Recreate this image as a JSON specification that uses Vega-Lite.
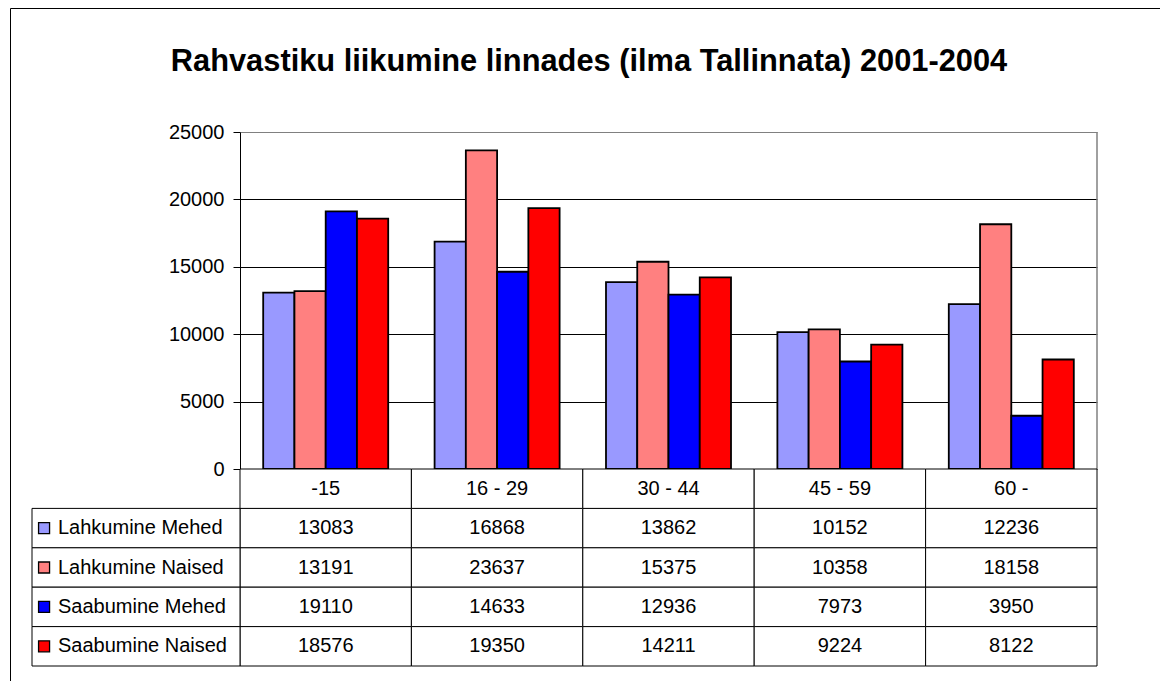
{
  "$schema": "https://vega.github.io/schema/vega-lite/v6.json",
  "width": 1150,
  "height": 673,
  "autosize": {"type": "none"},
  "padding": {"left": 10, "top": 8, "right": 0, "bottom": 0},
  "background": "white",
  "config": {"font": "Liberation Sans", "view": {"stroke": "black", "strokeWidth": 1}},
  "title": {
    "text": "Rahvastiku liikumine linnades (ilma Tallinnata) 2001-2004",
    "font": "Liberation Sans",
    "fontSize": 30.8,
    "fontWeight": "bold",
    "color": "black",
    "anchor": "middle",
    "frame": "group",
    "dx": 4,
    "offset": -70
  },
  "datasets": {
    "rows": [
      {"age": "-15", "series": "Lahkumine Mehed", "value": 13083},
      {"age": "16 - 29", "series": "Lahkumine Mehed", "value": 16868},
      {"age": "30 - 44", "series": "Lahkumine Mehed", "value": 13862},
      {"age": "45 - 59", "series": "Lahkumine Mehed", "value": 10152},
      {"age": "60 -", "series": "Lahkumine Mehed", "value": 12236},
      {"age": "-15", "series": "Lahkumine Naised", "value": 13191},
      {"age": "16 - 29", "series": "Lahkumine Naised", "value": 23637},
      {"age": "30 - 44", "series": "Lahkumine Naised", "value": 15375},
      {"age": "45 - 59", "series": "Lahkumine Naised", "value": 10358},
      {"age": "60 -", "series": "Lahkumine Naised", "value": 18158},
      {"age": "-15", "series": "Saabumine Mehed", "value": 19110},
      {"age": "16 - 29", "series": "Saabumine Mehed", "value": 14633},
      {"age": "30 - 44", "series": "Saabumine Mehed", "value": 12936},
      {"age": "45 - 59", "series": "Saabumine Mehed", "value": 7973},
      {"age": "60 -", "series": "Saabumine Mehed", "value": 3950},
      {"age": "-15", "series": "Saabumine Naised", "value": 18576},
      {"age": "16 - 29", "series": "Saabumine Naised", "value": 19350},
      {"age": "30 - 44", "series": "Saabumine Naised", "value": 14211},
      {"age": "45 - 59", "series": "Saabumine Naised", "value": 9224},
      {"age": "60 -", "series": "Saabumine Naised", "value": 8122}
    ]
  },
  "data": {"name": "rows"},
  "layer": [
    {
      "layer": [
        {
          "mark": {"type": "bar", "stroke": "black", "strokeWidth": 1.8},
          "encoding": {
            "x": {
              "field": "age", "type": "nominal",
              "sort": ["-15", "16 - 29", "30 - 44", "45 - 59", "60 -"],
              "scale": {"domain": ["-15", "16 - 29", "30 - 44", "45 - 59", "60 -"], "range": [230, 1087], "paddingInner": 0, "paddingOuter": 0},
              "axis": null
            },
            "xOffset": {
              "field": "series", "type": "nominal",
              "scale": {"domain": ["Lahkumine Mehed", "Lahkumine Naised", "Saabumine Mehed", "Saabumine Naised"], "paddingInner": 0, "paddingOuter": 0.742}
            },
            "y": {
              "field": "value", "type": "quantitative",
              "scale": {"domain": [0, 25000], "range": [461, 124], "nice": false},
              "axis": {
                "orient": "left",
                "offset": -230,
                "values": [0, 5000, 10000, 15000, 20000, 25000],
                "format": "d",
                "title": null,
                "labelFont": "Liberation Sans",
                "labelFontSize": 20,
                "labelColor": "black",
                "labelPadding": 9,
                "tickColor": "black",
                "tickSize": 7,
                "domainColor": "black",
                "grid": true,
                "gridColor": {"condition": {"test": "datum.value >= 25000", "value": "#808080"}, "value": "black"},
                "gridOpacity": 1,
                "gridWidth": 1
              }
            },
            "color": {
              "field": "series", "type": "nominal",
              "scale": {"domain": ["Lahkumine Mehed", "Lahkumine Naised", "Saabumine Mehed", "Saabumine Naised"], "range": ["#9999FF", "#FF8080", "#0000FF", "#FF0000"]},
              "legend": null
            }
          }
        },
        {
          "data": {"values": [{}]},
          "mark": {"type": "rule", "color": "#808080", "strokeWidth": 1.5},
          "encoding": {
            "x": {"datum": "60 -", "type": "nominal", "bandPosition": 1},
            "y": {"datum": 0, "type": "quantitative"},
            "y2": {"datum": 25000}
          }
        }
      ]
    },
    {
      "layer": [
        {
          "mark": {"type": "rect", "fill": "white", "stroke": "black", "strokeWidth": 1},
          "encoding": {
            "x": {"field": "age", "type": "nominal", "scale": {"domain": ["-15", "16 - 29", "30 - 44", "45 - 59", "60 -"], "range": [230, 1087], "paddingInner": 0, "paddingOuter": 0}, "axis": null},
            "y": {"field": "series", "type": "nominal", "scale": {"domain": ["hdr", "Lahkumine Mehed", "Lahkumine Naised", "Saabumine Mehed", "Saabumine Naised"], "range": [461, 658], "paddingInner": 0, "paddingOuter": 0}, "axis": null}
          }
        },
        {
          "transform": [{"filter": "datum.series === 'Lahkumine Mehed'"}],
          "mark": {"type": "rect", "fill": "white", "stroke": "black", "strokeWidth": 1},
          "encoding": {
            "x": {"field": "age", "type": "nominal"},
            "y": {"datum": "hdr", "type": "nominal"}
          }
        },
        {
          "mark": {"type": "text", "fontSize": 20, "font": "Liberation Sans", "color": "black", "align": "center", "baseline": "middle"},
          "encoding": {
            "x": {"field": "age", "type": "nominal"},
            "y": {"field": "series", "type": "nominal"},
            "text": {"field": "value", "type": "quantitative", "format": "d"}
          }
        },
        {
          "transform": [{"filter": "datum.series === 'Lahkumine Mehed'"}],
          "mark": {"type": "text", "fontSize": 20, "font": "Liberation Sans", "color": "black", "align": "center", "baseline": "middle"},
          "encoding": {
            "x": {"field": "age", "type": "nominal"},
            "y": {"datum": "hdr", "type": "nominal"},
            "text": {"field": "age", "type": "nominal"}
          }
        }
      ]
    },
    {
      "transform": [{"filter": "datum.age === '-15'"}],
      "layer": [
        {
          "mark": {"type": "rect", "fill": "white", "stroke": "black", "strokeWidth": 1},
          "encoding": {
            "x": {"datum": "legend", "type": "nominal", "scale": {"domain": ["legend"], "range": [22, 230], "paddingInner": 0, "paddingOuter": 0}, "axis": null},
            "y": {"field": "series", "type": "nominal", "scale": {"domain": ["hdr", "Lahkumine Mehed", "Lahkumine Naised", "Saabumine Mehed", "Saabumine Naised"], "range": [461, 658], "paddingInner": 0, "paddingOuter": 0}, "axis": null}
          }
        },
        {
          "mark": {"type": "point", "shape": "square", "filled": true, "size": 121, "stroke": "black", "strokeWidth": 1.3, "opacity": 1},
          "encoding": {
            "x": {"datum": "legend", "type": "nominal", "bandPosition": 0.058},
            "y": {"field": "series", "type": "nominal"},
            "fill": {"field": "series", "type": "nominal", "scale": {"domain": ["Lahkumine Mehed", "Lahkumine Naised", "Saabumine Mehed", "Saabumine Naised"], "range": ["#9999FF", "#FF8080", "#0000FF", "#FF0000"]}, "legend": null}
          }
        },
        {
          "mark": {"type": "text", "fontSize": 20, "font": "Liberation Sans", "color": "black", "align": "left", "baseline": "middle"},
          "encoding": {
            "x": {"datum": "legend", "type": "nominal", "bandPosition": 0.125},
            "y": {"field": "series", "type": "nominal"},
            "text": {"field": "series", "type": "nominal"}
          }
        }
      ]
    }
  ],
  "resolve": {"scale": {"x": "independent", "y": "independent"}}
}
